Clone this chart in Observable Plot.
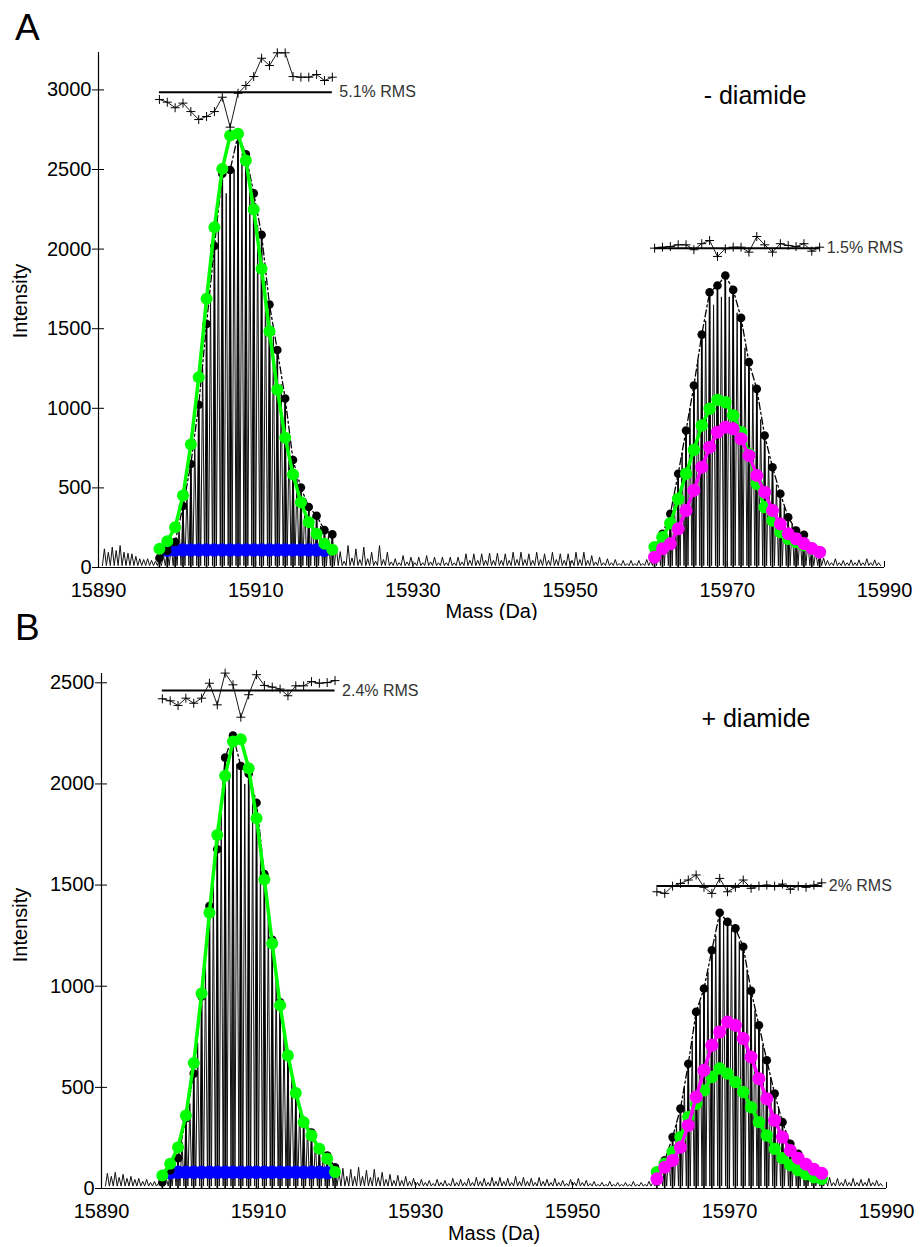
<!DOCTYPE html>
<html><head><meta charset="utf-8">
<script src="https://cdn.jsdelivr.net/npm/d3@7"></script>
<script src="https://cdn.jsdelivr.net/npm/@observablehq/plot@0.6"></script>
<style>
body{margin:0;background:#fff;}
#wrap{position:relative;width:922px;height:1247px;overflow:hidden;font-family:"Liberation Sans",Arial,sans-serif;background:#fff;}
.letter{position:absolute;font-size:37px;line-height:37px;color:#000;}
.panel{position:absolute;left:0;}
</style></head><body>
<div id="wrap">
<div id="pA" class="panel" style="top:0"></div>
<div id="pB" class="panel" style="top:620px"></div>
<div class="letter" style="left:15px;top:9px">A</div>
<div class="letter" style="left:15px;top:609px">B</div>
</div>
<script>
// ---------- shared ----------
const xDomain = [15890, 15990];
const xTicks = [15890, 15910, 15930, 15950, 15970, 15990];
const massStart = 15890.75;      // first isotope position of the raw profile
const valley = 12;               // profile minimum between isotope spikes
const species1Start = 15897.75;  // first isotope of the 15907 Da envelope
const species2Start = 15960.75;  // first isotope of the 15969 Da envelope
const blueStart = 15898.75;

// ---------- panel A (- diamide) ----------
const yTicksA = [0, 500, 1000, 1500, 2000, 2500, 3000];
const specA = [117,128,138,90,70,50,45,
  60,105,160,386,650,1022,1530,2020,2473,2497,2718,2595,2350,2090,1652,1366,1062,675,502,380,325,235,208,
  100,138,117,128,96,138,96,55,75,65,65,75,65,65,65,65,86,86,86,90,
  90,86,96,96,86,96,86,96,86,86,96,96,75,65,55,50,44,44,44,50,
  107,211,337,589,861,1143,1463,1729,1771,1834,1744,1568,1290,1122,829,630,463,316,232,205,130,90,
  44,55,44,48,48,55,48];
const minorA = [96,107,96,86,55,55,40,
  80,130,250,480,800,1250,1700,2150,2350,2500,2550,2400,2150,1800,1450,1150,820,560,400,320,260,200,130,
  40,60,50,55,40,50,35,30,35,30,30,35,30,30,30,35,45,45,45,45,
  45,45,50,50,45,50,45,50,45,45,50,45,35,30,30,25,25,25,25,40,
  150,260,450,720,1000,1300,1550,1650,1700,1700,1600,1380,1150,930,700,520,380,270,210,160,100,60,
  30,30,30,30,30,30,30];
const greenA1 = [117,165,253,452,773,1195,1688,2138,2504,2714,2724,2557,2249,1876,1484,1116,815,584,410,285,212,149,111];
const greenA2 = [128,190,278,431,589,739,892,997,1053,1038,955,850,714,526,379,295,222,180,160,140,115,96];
const magentaA2 = [65,117,149,243,358,484,630,756,850,881,871,808,704,578,473,358,274,212,180,150,120,96];
const blueA = [108,110,110,110,110,110,110,110,110,110,110,110,110,110,110,110,110,110,110,110,108];
const resA1 = [2940,2923,2888,2917,2864,2814,2833,2864,2954,2766,2979,3028,3084,3199,3153,3233,3233,3084,3080,3080,3097,3059,3080];
const resA2 = [2006,2012,2016,2027,2027,1996,2034,2054,1954,2002,2012,2012,1981,2079,2027,1981,2034,2023,2016,2034,1987,2012];
const rmsRefA = [2985, 2005];
const rmsLabelA = ["5.1% RMS", "1.5% RMS"];

// ---------- panel B (+ diamide) ----------
const yTicksB = [0, 500, 1000, 1500, 2000, 2500];
const specB = [75,80,70,60,50,45,35,
  31,90,150,347,568,950,1396,1677,2130,2239,2089,2050,1907,1554,1230,920,665,475,335,277,196,163,105,
  100,95,105,90,95,80,70,65,60,50,45,40,45,40,50,45,50,55,50,55,
  55,50,60,55,50,55,45,50,40,45,50,40,35,30,35,30,30,35,30,35,
  48,139,254,395,617,873,989,1178,1363,1318,1286,1195,977,807,634,469,328,221,172,130,89,60,
  55,50,45,50,45,50,40];
const minorB = [60,55,50,45,35,30,25,
  50,110,230,420,720,1120,1500,1850,2050,2100,2000,1900,1650,1350,1050,780,560,400,300,230,180,130,80,
  60,60,60,55,55,45,40,40,35,30,30,25,30,25,30,30,30,35,30,35,
  35,30,35,35,30,35,30,30,25,30,30,25,20,20,20,20,20,20,20,30,
  90,190,320,500,730,920,1070,1250,1320,1280,1220,1080,880,710,550,400,280,200,150,110,75,45,
  30,30,30,30,30,30,25];
const greenB1 = [64,122,204,361,620,964,1363,1748,2040,2210,2221,2078,1830,1528,1211,906,658,472,328,262,196,147,81];
const greenB2 = [81,122,180,254,353,419,485,551,593,568,526,477,402,328,262,196,150,115,90,70,55,48];
const magentaB2 = [48,105,139,204,312,452,584,708,774,823,807,741,650,543,444,337,254,188,150,120,95,75];
const blueB = [78,80,80,80,80,80,80,80,80,80,80,80,80,80,80,80,80,80,80,80,78];
const resB1 = [2421,2411,2388,2424,2399,2424,2498,2391,2548,2490,2330,2441,2540,2487,2479,2469,2436,2485,2485,2506,2498,2501,2511];
const resB2 = [1467,1459,1495,1508,1525,1550,1489,1459,1533,1467,1489,1525,1484,1495,1500,1495,1505,1479,1495,1489,1500,1511];
const rmsRefB = [2462, 1495];
const rmsLabelB = ["2.4% RMS", "2% RMS"];

const conditions = ["- diamide", "+ diamide"];

// ---------- helpers ----------
const series = (start, values) => values.map((v, i) => ({m: start + i, v}));
function profileOf(main, minor) {
  const pts = [];
  main.forEach((h, i) => {
    const m = massStart + i;
    pts.push({m: m - 0.25, v: valley}, {m, v: h}, {m: m + 0.25, v: valley}, {m: m + 0.5, v: minor[i]});
  });
  pts.push({m: massStart + main.length - 0.25, v: valley});
  return pts;
}
function windowDots(main, start, n) {
  return series(massStart, main).filter(d => d.m >= start - 0.01 && d.m <= start + n - 1 + 0.01);
}

function panel(o) {
  const W = 922;
  const frameW = W - o.ml - o.mr, frameH = o.h - o.mt - o.mb;
  const dots1 = windowDots(o.spec, species1Start, o.green1.length);
  const dots2 = windowDots(o.spec, species2Start, o.green2.length);
  const g1 = series(species1Start, o.green1);
  const g2 = series(species2Start, o.green2);
  const mg = series(species2Start, o.magenta2);
  const bl = series(blueStart, o.blue);
  const r1 = series(species1Start, o.res1);
  const r2 = series(species2Start, o.res2);
  const refs = [
    {y: o.ref[0], x1: r1[0].m, x2: r1[r1.length - 1].m, label: o.labels[0]},
    {y: o.ref[1], x1: r2[0].m, x2: r2[r2.length - 1].m, label: o.labels[1]}
  ];
  return Plot.plot({
    width: W, height: o.h,
    marginLeft: o.ml, marginRight: o.mr, marginTop: o.mt, marginBottom: o.mb,
    x: {domain: xDomain},
    y: {domain: [0, o.ymax]},
    style: {fontFamily: "'Liberation Sans', Arial, sans-serif", color: "#000", background: "#fff", overflow: "visible"},
    marks: [
      Plot.axisY({ticks: o.yTicks, tickSize: 6, tickPadding: 1, tickFormat: "d", fontSize: 20, label: null}),
      Plot.axisX({ticks: xTicks, tickSize: 0, tickPadding: o.xpad, tickFormat: "d", fontSize: 20, label: null}),
      Plot.tickY(o.yTicks, {y: d => d, insetRight: frameW - 6, stroke: "#000"}),
      Plot.tickX(xTicks, {x: d => d, insetTop: frameH - 6, stroke: "#000"}),
      Plot.ruleX([xDomain[0]], {stroke: "#000", strokeWidth: 1.2}),
      Plot.ruleY([0], {stroke: "#000", strokeWidth: 1.2}),
      // raw profile spectrum
      Plot.line(profileOf(o.spec, o.minor), {x: "m", y: "v", stroke: "#111", strokeWidth: 1}),
      // centroid stems
      Plot.ruleX(dots1.concat(dots2), {x: "m", y1: 0, y2: "v", stroke: "#000", strokeWidth: 1.7}),
      // baseline species (blue)
      Plot.line(bl, {x: "m", y: "v", stroke: "#0000ff", strokeWidth: 10}),
      Plot.dot(bl, {x: "m", y: "v", r: 6.8, fill: "#0000ff"}),
      // measured envelope (dash-dot) + dots
      Plot.line(dots1, {x: "m", y: "v", stroke: "#000", strokeWidth: 1.3, strokeDasharray: "7,3,2,3"}),
      Plot.line(dots2, {x: "m", y: "v", stroke: "#000", strokeWidth: 1.3, strokeDasharray: "7,3,2,3"}),
      Plot.dot(dots1.concat(dots2), {x: "m", y: "v", r: 4.3, fill: "#000"}),
      // fits
      Plot.line(g1, {x: "m", y: "v", stroke: "#00ff00", strokeWidth: 3.5}),
      Plot.dot(g1, {x: "m", y: "v", r: 6, fill: "#00ff00"}),
      Plot.line(g2, {x: "m", y: "v", stroke: "#00ff00", strokeWidth: 3.5}),
      Plot.dot(g2, {x: "m", y: "v", r: 6.2, fill: "#00ff00"}),
      Plot.line(mg, {x: "m", y: "v", stroke: "#ff00ff", strokeWidth: 3.5}),
      Plot.dot(mg, {x: "m", y: "v", r: 6.5, fill: "#ff00ff"}),
      // residual traces
      Plot.ruleY(refs, {y: "y", x1: "x1", x2: "x2", stroke: "#000", strokeWidth: 2}),
      Plot.line(r1, {x: "m", y: "v", stroke: "#000", strokeWidth: 0.9}),
      Plot.line(r2, {x: "m", y: "v", stroke: "#000", strokeWidth: 0.9}),
      Plot.dot(r1.concat(r2), {x: "m", y: "v", symbol: "plus", r: 3, stroke: "#000", strokeWidth: 1}),
      Plot.text(refs, {x: "x2", y: "y", text: "label", dx: 7, textAnchor: "start", lineAnchor: "middle", fontSize: 16, fill: "#333"}),
      // texts
      Plot.text([o.condition], {frameAnchor: "top-right", dx: o.condDx, dy: o.condDy, textAnchor: "end", lineAnchor: "middle", fontSize: 25, fill: "#000"}),
      Plot.text(["Intensity"], {frameAnchor: "left", rotate: -90, dx: -(o.ml - 20), dy: o.ylabDy, textAnchor: "middle", lineAnchor: "middle", fontSize: 20, fill: "#000"}),
      Plot.text(["Mass (Da)"], {frameAnchor: "bottom", dy: o.xlabDy, textAnchor: "middle", lineAnchor: "middle", fontSize: 20, fill: "#000"})
    ]
  });
}

document.getElementById("pA").append(panel({
  h: 620, ml: 98, mr: 38, mt: 52, mb: 53, ymax: 3235, yTicks: yTicksA, xpad: 15,
  spec: specA, minor: minorA, green1: greenA1, green2: greenA2, magenta2: magentaA2, blue: blueA,
  res1: resA1, res2: resA2, ref: rmsRefA, labels: rmsLabelA,
  condition: conditions[0], condDx: -78, condDy: 43, ylabDy: -9, xlabDy: 44
}));
document.getElementById("pB").append(panel({
  h: 627, ml: 101, mr: 36, mt: 53, mb: 59, ymax: 2546, yTicks: yTicksB, xpad: 15,
  spec: specB, minor: minorB, green1: greenB1, green2: greenB2, magenta2: magentaB2, blue: blueB,
  res1: resB1, res2: resB2, ref: rmsRefB, labels: rmsLabelB,
  condition: conditions[1], condDx: -76, condDy: 45, ylabDy: -6, xlabDy: 45
}));
</script>
</body></html>
